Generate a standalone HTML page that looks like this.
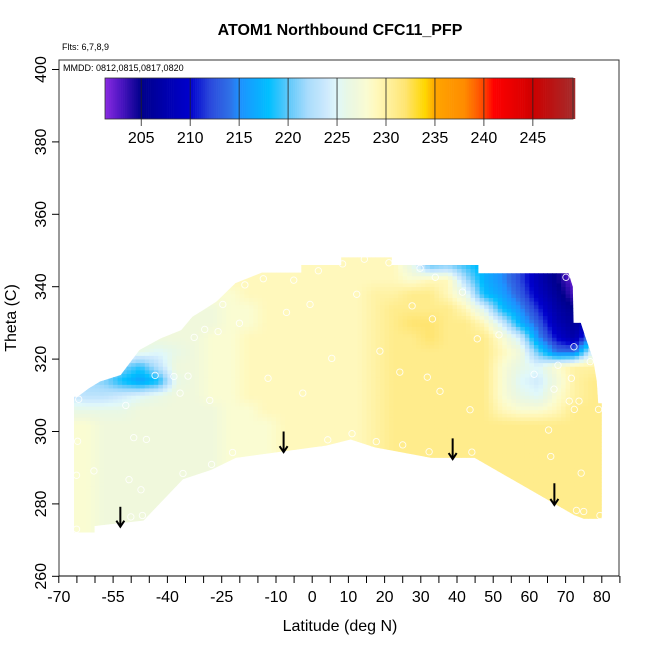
<!DOCTYPE html>
<html><head><meta charset="utf-8"><style>
html,body{margin:0;padding:0;background:#fff;}
svg{display:block;font-family:"Liberation Sans",Arial,sans-serif;}
</style></head><body>
<svg id="chart" width="650" height="650" viewBox="0 0 650 650">
<text x="340" y="35" text-anchor="middle" font-size="16" font-weight="bold">ATOM1 Northbound CFC11_PFP</text>
<text x="62" y="50" font-size="9">Flts: 6,7,8,9</text>
<defs><clipPath id="fieldClip"><polygon id="clipPoly"/></clipPath></defs>
<g id="field" clip-path="url(#fieldClip)"></g>
<g id="obs"></g>
<g id="arrows"></g>
<rect x="59" y="60" width="560" height="516" fill="none" stroke="#333" stroke-width="1"/>
<text x="63" y="71" font-size="9">MMDD: 0812,0815,0817,0820</text>
<g id="cbar"></g>
<g id="xaxis"></g>
<g id="yaxis"></g>
<text x="340" y="631" text-anchor="middle" font-size="16">Latitude (deg N)</text>
<text transform="translate(16,318) rotate(-90)" text-anchor="middle" font-size="16">Theta (C)</text>
</svg>
<script>
const xTicks=[-70,-65,-60,-55,-50,-45,-40,-35,-30,-25,-20,-15,-10,-5,0,5,10,15,20,25,30,35,40,45,50,55,60,65,70,75,80,85];
const xLabels=[-70,-55,-40,-25,-10,0,10,20,30,40,50,60,70,80];
const yTicks=[260,280,300,320,340,360,380,400];
const cbarTicks=[205,210,215,220,225,230,235,240,245];
const gridLats=[-67.5,-62.5,-57.5,-52.5,-47.5,-42.5,-37.5,-32.5,-27.5,-22.5,-17.5,-12.5,-7.5,-2.5,2.5,7.5,12.5,17.5,22.5,27.5,32.5,37.5,42.5,47.5,52.5,57.5,62.5,67.5,72.5,77.5];
const gridThetas=[274,278,282,286,290,294,298,302,306,310,314,318,322,326,330,334,338,342,346];
const B=[228,228,227,227,227,227,227,227,227,228,228,228,229,229,229,229,229,230,231,231,231,231,231,231,231,231,231,231,231,231];
const gridValues=[
B,B,B,B,B,B,B,B,
[226,226,226,226,227,227,227,227,227,228,228,229,229,229,229,229,229,230,231,231,231,231,231,231,229,228,228,229,231,231],
[224,223,223,224,225,226,227,227,228,228,229,229,229,229,229,229,229,230,231,231,231,231,231,231,228,226,225,228,230,231],
[223,222,221,218,216,218,226,227,228,228,229,229,229,229,229,229,229,230,231,231,231,231,231,231,228,225,224,227,230,231],
[225,224,223,221,219,223,227,227,228,228,229,229,229,229,229,229,229,230,231,231,231,231,231,231,228,226,225,228,230,230],
[227,227,227,227,226,225,226,227,228,228,229,229,229,229,229,229,229,230,231,231,231,231,231,231,229,227,220,214,214,225],
[227,227,227,227,227,227,227,227,228,228,229,229,229,229,229,229,229,230,231,231,232,231,231,231,228,224,215,210,207,216],
[227,227,227,227,227,227,227,227,227,228,228,229,229,229,229,229,229,230,231,232,232,231,231,229,224,217,213,208,206,210],
[227,227,227,227,227,227,227,227,227,228,228,229,229,229,229,229,229,230,231,231,231,231,229,225,218,215,211,207,205,205],
[228,228,228,228,228,228,228,228,228,228,229,229,229,229,229,229,229,230,230,231,231,229,226,218,216,213,209,206,203,203],
[229,229,229,229,229,229,229,229,229,229,229,229,229,229,229,229,229,229,229,228,229,229,222,217,215,212,208,205,202,202],
[229,229,229,229,229,229,229,229,229,229,229,229,229,229,229,229,229,229,229,226,220,221,219,217,215,212,208,205,202,202]
];
const boundLat=[-65.8,-60.1,-60.1,-46.6,-35.7,-27.9,-21.1,-8.7,3.8,10.6,17.3,32.9,44.9,72.4,75,80,80,79,78.6,77.6,75.5,74.2,72.2,72,70.8,45.9,45.9,22,22,8,8,-3,-3,-13.9,-21.2,-26.4,-30,-33.1,-36.2,-41.9,-47.7,-52.9,-58.6,-61.7,-64.8,-65.8];
const boundTheta=[272.1,272.1,273.9,275.4,286.8,289.4,292.7,294.4,296.1,297.8,295.6,292.7,292.7,276.9,275.9,275.9,307.8,307.8,314,320,326,330,330,340,343.7,343.7,346,346,348.1,348.1,346,346,343.9,343.9,341,335.9,333.6,331.7,328,325.7,322.5,315.6,313.8,311.9,309.6,309.6];
const obsLat=[-65.1,-65.1,-64.8,-64.5,-60.3,-51.5,-50.6,-50.1,-49.3,-47.3,-46.9,-45.8,-43.4,-38.2,-36.5,-35.7,-34.3,-32.6,-29.7,-28.3,-27.8,-26.0,-24.7,-22.0,-20.1,-18.6,-13.5,-12.2,-7.1,-5.1,-2.6,-0.6,1.7,4.3,5.4,8.4,11.0,12.3,14.4,17.7,18.7,21.2,24.2,25.0,27.6,29.8,31.8,32.3,33.2,34.0,35.3,41.5,43.6,44.1,45.6,51.6,61.3,65.3,65.9,66.8,67.9,70.1,71.0,71.6,72.3,72.4,73.0,73.7,74.3,75.0,76.8,79.1,79.5];
const obsTheta=[273.0,287.9,297.3,308.9,289.1,307.2,286.7,276.4,298.3,283.9,276.8,297.8,315.5,315.2,310.6,288.4,315.3,326.0,328.2,308.6,290.9,327.6,335.1,294.2,329.9,340.5,342.2,314.7,332.9,341.8,310.6,335.1,344.4,297.7,320.2,346.3,299.4,337.9,347.6,297.2,322.2,346.6,316.4,296.3,334.7,345.1,315.0,294.4,331.1,342.6,311.1,338.5,306.0,294.3,325.6,326.7,315.8,300.4,293.1,311.7,318.3,342.6,308.4,314.7,323.4,306.1,278.2,308.4,288.5,277.9,319.3,306.1,276.8];
const arrowLat=[-53.0,-7.9,38.8,66.9];
const arrowTop=[279.2,300.0,298.1,285.7];
const arrowBottom=[273.7,294.3,292.4,279.7];
const cStops=[201.3,203,205,208,210,212,214,215,218,220,222,224,225,226,227,228,229,230,231,232,234,235,238,240,241,244,245,249.1];
const cColors=['#8a2be2','#4a14c0','#00008b','#0000b4','#0000cd','#2a48dc','#3070e6','#1e90ff','#00bfff','#5ec8fa','#a8dcfc','#cfeafd','#e0f8fa','#e8f8e6','#f0f8dc','#fafcd2','#fff8bc','#fff2a4','#ffec8c','#ffe470','#ffd700','#ffa500','#ff8c00','#ff4500','#ff0000','#dd0000','#cd0000','#a52a2a'];

const NS='http://www.w3.org/2000/svg';
const X=l=>58.8+(l+70)*3.62;
const Y=t=>576.3-(t-260)*3.62;
function hex(h){return [1,3,5].map(i=>parseInt(h.substr(i,2),16));}
function color(v){
  if(v<=cStops[0])return cColors[0];
  for(let i=1;i<cStops.length;i++){
    if(v<=cStops[i]){const f=(v-cStops[i-1])/(cStops[i]-cStops[i-1]);const a=hex(cColors[i-1]),b=hex(cColors[i]);
      return 'rgb('+a.map((c,k)=>Math.round(c+(b[k]-c)*f)).join(',')+')';}
  }
  return cColors[cColors.length-1];
}
function mk(tag,attrs,parent){const e=document.createElementNS(NS,tag);for(const k in attrs)e.setAttribute(k,attrs[k]);parent.appendChild(e);return e;}
function valueAt(lat,th){
  let ci=(lat-gridLats[0])/5, ri=(th-gridThetas[0])/4;
  ci=Math.max(0,Math.min(gridLats.length-1.0001,ci)); ri=Math.max(0,Math.min(gridThetas.length-1.0001,ri));
  const c0=Math.floor(ci),r0=Math.floor(ri),fc=ci-c0,fr=ri-r0;
  const v00=gridValues[r0][c0],v01=gridValues[r0][c0+1],v10=gridValues[r0+1][c0],v11=gridValues[r0+1][c0+1];
  return (v00*(1-fc)+v01*fc)*(1-fr)+(v10*(1-fc)+v11*fc)*fr;
}
document.getElementById('clipPoly').setAttribute('points',boundLat.map((l,i)=>X(l).toFixed(1)+','+Y(boundTheta[i]).toFixed(1)).join(' '));
const field=document.getElementById('field');
for(let lat=-70;lat<80;lat+=1.25){
  for(let th=272;th<349;th+=1){
    const r=mk('rect',{x:X(lat).toFixed(2),y:Y(th+1).toFixed(2),width:(1.25*3.62+0.4).toFixed(2),height:(3.62+0.4).toFixed(2),fill:color(valueAt(lat+0.625,th+0.5))},field);
    
    
  }
}
const obs=document.getElementById('obs');
obsLat.forEach((l,i)=>{
  const c=mk('circle',{cx:X(l),cy:Y(obsTheta[i]),r:3.2,fill:'none',stroke:'#fff','stroke-width':0.9,opacity:0.9},obs);
  
  
});
const ar=document.getElementById('arrows');
arrowLat.forEach((l,i)=>{
  const g=mk('g',{},ar);
  
  
  const x=X(l),y1=Y(arrowTop[i]),y2=Y(arrowBottom[i]);
  mk('line',{x1:x,y1:y1,x2:x,y2:y2,stroke:'#000','stroke-width':2},g);
  mk('polyline',{points:(x-4)+','+(y2-6)+' '+x+','+y2+' '+(x+4)+','+(y2-6),fill:'none',stroke:'#000','stroke-width':2},g);
});
const cb=document.getElementById('cbar');
const CX=v=>105+(v-201.3)*(573-105)/(249.1-201.3);
for(let v=201.3;v<249.1;v+=0.2){
  const r=mk('rect',{x:CX(v).toFixed(2),y:78,width:(0.2*9.79+0.3).toFixed(2),height:41,fill:color(v+0.1)},cb);
  
  
}
mk('rect',{x:105,y:78,width:468,height:41,fill:'none',stroke:'#333','stroke-width':0.8},cb);
cbarTicks.forEach(v=>{
  const x=CX(v);
  mk('line',{x1:x,y1:78,x2:x,y2:126,stroke:'#222','stroke-width':0.8},cb);
  const t=mk('text',{x:x,y:143,'text-anchor':'middle','font-size':16},cb);
  t.textContent=v;
  
  
});
const xa=document.getElementById('xaxis');
mk('line',{x1:59,y1:576,x2:619,y2:576,stroke:'#000','stroke-width':1},xa);
xTicks.forEach(v=>{mk('line',{x1:X(v),y1:576,x2:X(v),y2:583,stroke:'#000','stroke-width':1},xa);});
xLabels.forEach(v=>{
  const t=mk('text',{x:X(v),y:602,'text-anchor':'middle','font-size':16},xa);
  t.textContent=v;
  
  
});
const ya=document.getElementById('yaxis');
yTicks.forEach(v=>{
  const y=Y(v);
  mk('line',{x1:52,y1:y,x2:59,y2:y,stroke:'#000','stroke-width':1},ya);
  const t=mk('text',{transform:'translate(46,'+y+') rotate(-90)','text-anchor':'middle','font-size':16},ya);
  t.textContent=v;
  
  
});
</script>
</body></html>
